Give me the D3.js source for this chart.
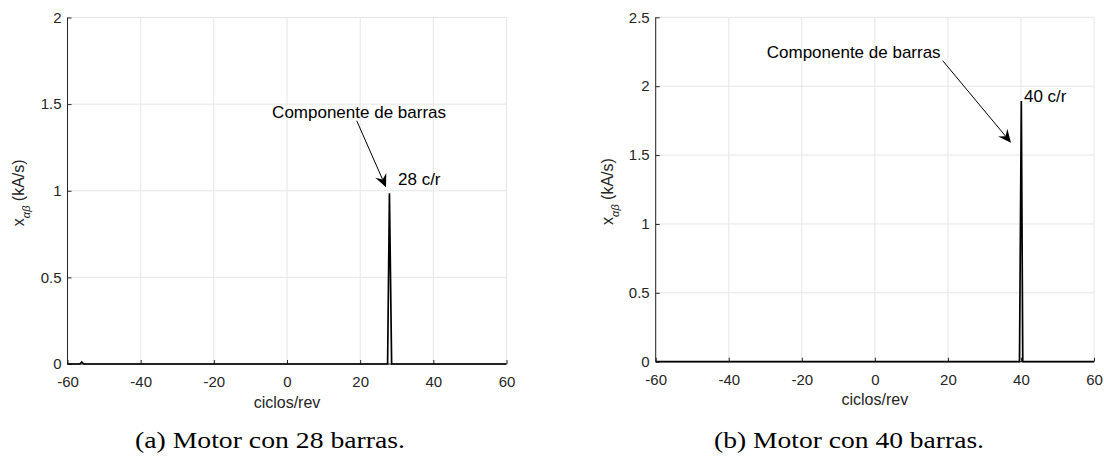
<!DOCTYPE html>
<html>
<head>
<meta charset="utf-8">
<script src="https://cdn.jsdelivr.net/npm/d3@7"></script>
<style>
html,body{margin:0;padding:0;background:#fff;}
svg{display:block;}
</style>
</head>
<body>
<svg id="chart" width="1104" height="468"></svg>
<script>
// ---- data ----
const xTicks = [-60, -40, -20, 0, 20, 40, 60];
const yTicksA = [0, 0.5, 1, 1.5, 2];
const yTicksB = [0, 0.5, 1, 1.5, 2, 2.5];
const xA = [-60, -56.6, -56.1, -55.6, 27.5, 28, 28.6, 60];
const yA = [0, 0, 0.012, 0, 0, 0.985, 0, 0];
const xB = [-60, 39.6, 40.1, 40.5, 60];
const yB = [0, 0, 1.892, 0, 0];
const captions = ["(a) Motor con 28 barras.", "(b) Motor con 40 barras."];
const annotText = "Componente de barras";
const peakLabels = ["28 c/r", "40 c/r"];

const svg = d3.select("#chart");

const panels = [
  {xs: xA, ys: yA, yTicks: yTicksA, yMax: 2, left: 67.5, right: 506.5, top: 17.5, bottom: 364,
   caption: captions[0], capX: 270, label: peakLabels[0],
   textPos: [19.7, 1.456], arrow: [[19.06, 1.404], [27.07, 1.02]], labelPos: [30.35, 1.068], ylabX: 24},
  {xs: xB, ys: yB, yTicks: yTicksB, yMax: 2.5, left: 655.7, right: 1094, top: 17.3, bottom: 361.7,
   caption: captions[1], capX: 849, label: peakLabels[1],
   textPos: [-29.6, 2.25], arrow: [[18.58, 2.185], [37.28, 1.59]], labelPos: [40.83, 1.93], ylabX: 613}
];

const sans = "Liberation Sans, Arial, Helvetica, sans-serif";

panels.forEach((p, i) => {
  const x = d3.scaleLinear().domain([-60, 60]).range([p.left, p.right]);
  const y = d3.scaleLinear().domain([0, p.yMax]).range([p.bottom, p.top]);
  const g = svg.append("g");

  // grid
  g.append("g").selectAll("line").data(xTicks).join("line")
    .attr("x1", d => x(d)).attr("x2", d => x(d))
    .attr("y1", p.top).attr("y2", p.bottom)
    .attr("stroke", "#e6e6e6").attr("stroke-width", 1);
  g.append("g").selectAll("line").data(p.yTicks).join("line")
    .attr("x1", p.left).attr("x2", p.right)
    .attr("y1", d => y(d)).attr("y2", d => y(d))
    .attr("stroke", "#e6e6e6").attr("stroke-width", 1);

  // axes (inward ticks)
  const fmt = d => String(d);
  const xAxis = d3.axisBottom(x).tickValues(xTicks).tickSize(-4).tickPadding(6).tickFormat(fmt);
  const gx = g.append("g").attr("transform", `translate(0,${p.bottom})`).call(xAxis);
  const yAxis = d3.axisLeft(y).tickValues(p.yTicks).tickSize(-4).tickPadding(6).tickFormat(fmt);
  const gy = g.append("g").attr("transform", `translate(${p.left},0)`).call(yAxis);
  [gx, gy].forEach(a => {
    a.select(".domain").attr("stroke", "#262626").attr("stroke-width", 1);
    a.selectAll(".tick line").attr("stroke", "#262626");
    a.selectAll(".tick text").attr("fill", "#262626")
      .style("font-family", sans).style("font-size", "15px");
  });
  gx.select(".domain").attr("d", `M${p.left},0H${p.right}`);
  gy.select(".domain").attr("d", `M0,${p.bottom}V${p.top}`);
  gx.selectAll(".tick text").attr("y", 18).attr("dy", "0.35em");

  // data line
  const line = d3.line().x(d => x(d[0])).y(d => y(d[1]));
  g.append("path").datum(p.xs.map((v, k) => [v, p.ys[k]]))
    .attr("d", line).attr("fill", "none").attr("stroke", "#000")
    .attr("stroke-width", 1.7).attr("stroke-linejoin", "miter");

  // x label
  g.append("text").attr("x", (p.left + p.right) / 2).attr("y", p.bottom + 38)
    .attr("dy", "0.35em")
    .attr("text-anchor", "middle").attr("fill", "#262626")
    .style("font-family", sans).style("font-size", "16px").text("ciclos/rev");

  // y label
  const yl = g.append("text")
    .attr("transform", `translate(${p.ylabX},${(p.top + p.bottom) / 2 + 2}) rotate(-90)`)
    .attr("text-anchor", "middle").attr("fill", "#262626")
    .style("font-family", sans).style("font-size", "16px");
  yl.append("tspan").text("x");
  yl.append("tspan").attr("dy", "6").style("font-size", "11px").style("font-style", "italic").text("αβ");
  yl.append("tspan").attr("dy", "-6").text(" (kA/s)");

  // annotation text
  g.append("text").attr("x", x(p.textPos[0])).attr("y", y(p.textPos[1]))
    .attr("dy", "0.35em").attr("text-anchor", i === 0 ? "middle" : "start").attr("fill", "#000")
    .style("font-family", sans).style("font-size", "17px").text(annotText);

  // arrow
  const x1 = x(p.arrow[0][0]), y1 = y(p.arrow[0][1]);
  const x2 = x(p.arrow[1][0]), y2 = y(p.arrow[1][1]);
  const ang = Math.atan2(y2 - y1, x2 - x1);
  const L = 13, W = 6, back = 8.5;
  const bx = x2 - L * Math.cos(ang), by = y2 - L * Math.sin(ang);
  const nx = -Math.sin(ang), ny = Math.cos(ang);
  const mx = x2 - back * Math.cos(ang), my = y2 - back * Math.sin(ang);
  g.append("line").attr("x1", x1).attr("y1", y1).attr("x2", mx).attr("y2", my)
    .attr("stroke", "#000").attr("stroke-width", 1);
  g.append("path")
    .attr("d", `M${x2},${y2}L${bx + nx * W},${by + ny * W}L${mx},${my}L${bx - nx * W},${by - ny * W}Z`)
    .attr("fill", "#000");

  // peak label
  g.append("text").attr("x", x(p.labelPos[0])).attr("y", y(p.labelPos[1]))
    .attr("dy", "0.35em").attr("fill", "#000")
    .style("font-family", sans).style("font-size", "17px").text(p.label);

  // caption
  svg.append("text").attr("x", p.capX).attr("y", 448)
    .attr("text-anchor", "middle").attr("fill", "#000")
    .attr("textLength", 270).attr("lengthAdjust", "spacingAndGlyphs")
    .style("font-family", "Liberation Serif, DejaVu Serif, serif").style("font-size", "23px")
    .text(p.caption);
});
</script>
</body>
</html>
